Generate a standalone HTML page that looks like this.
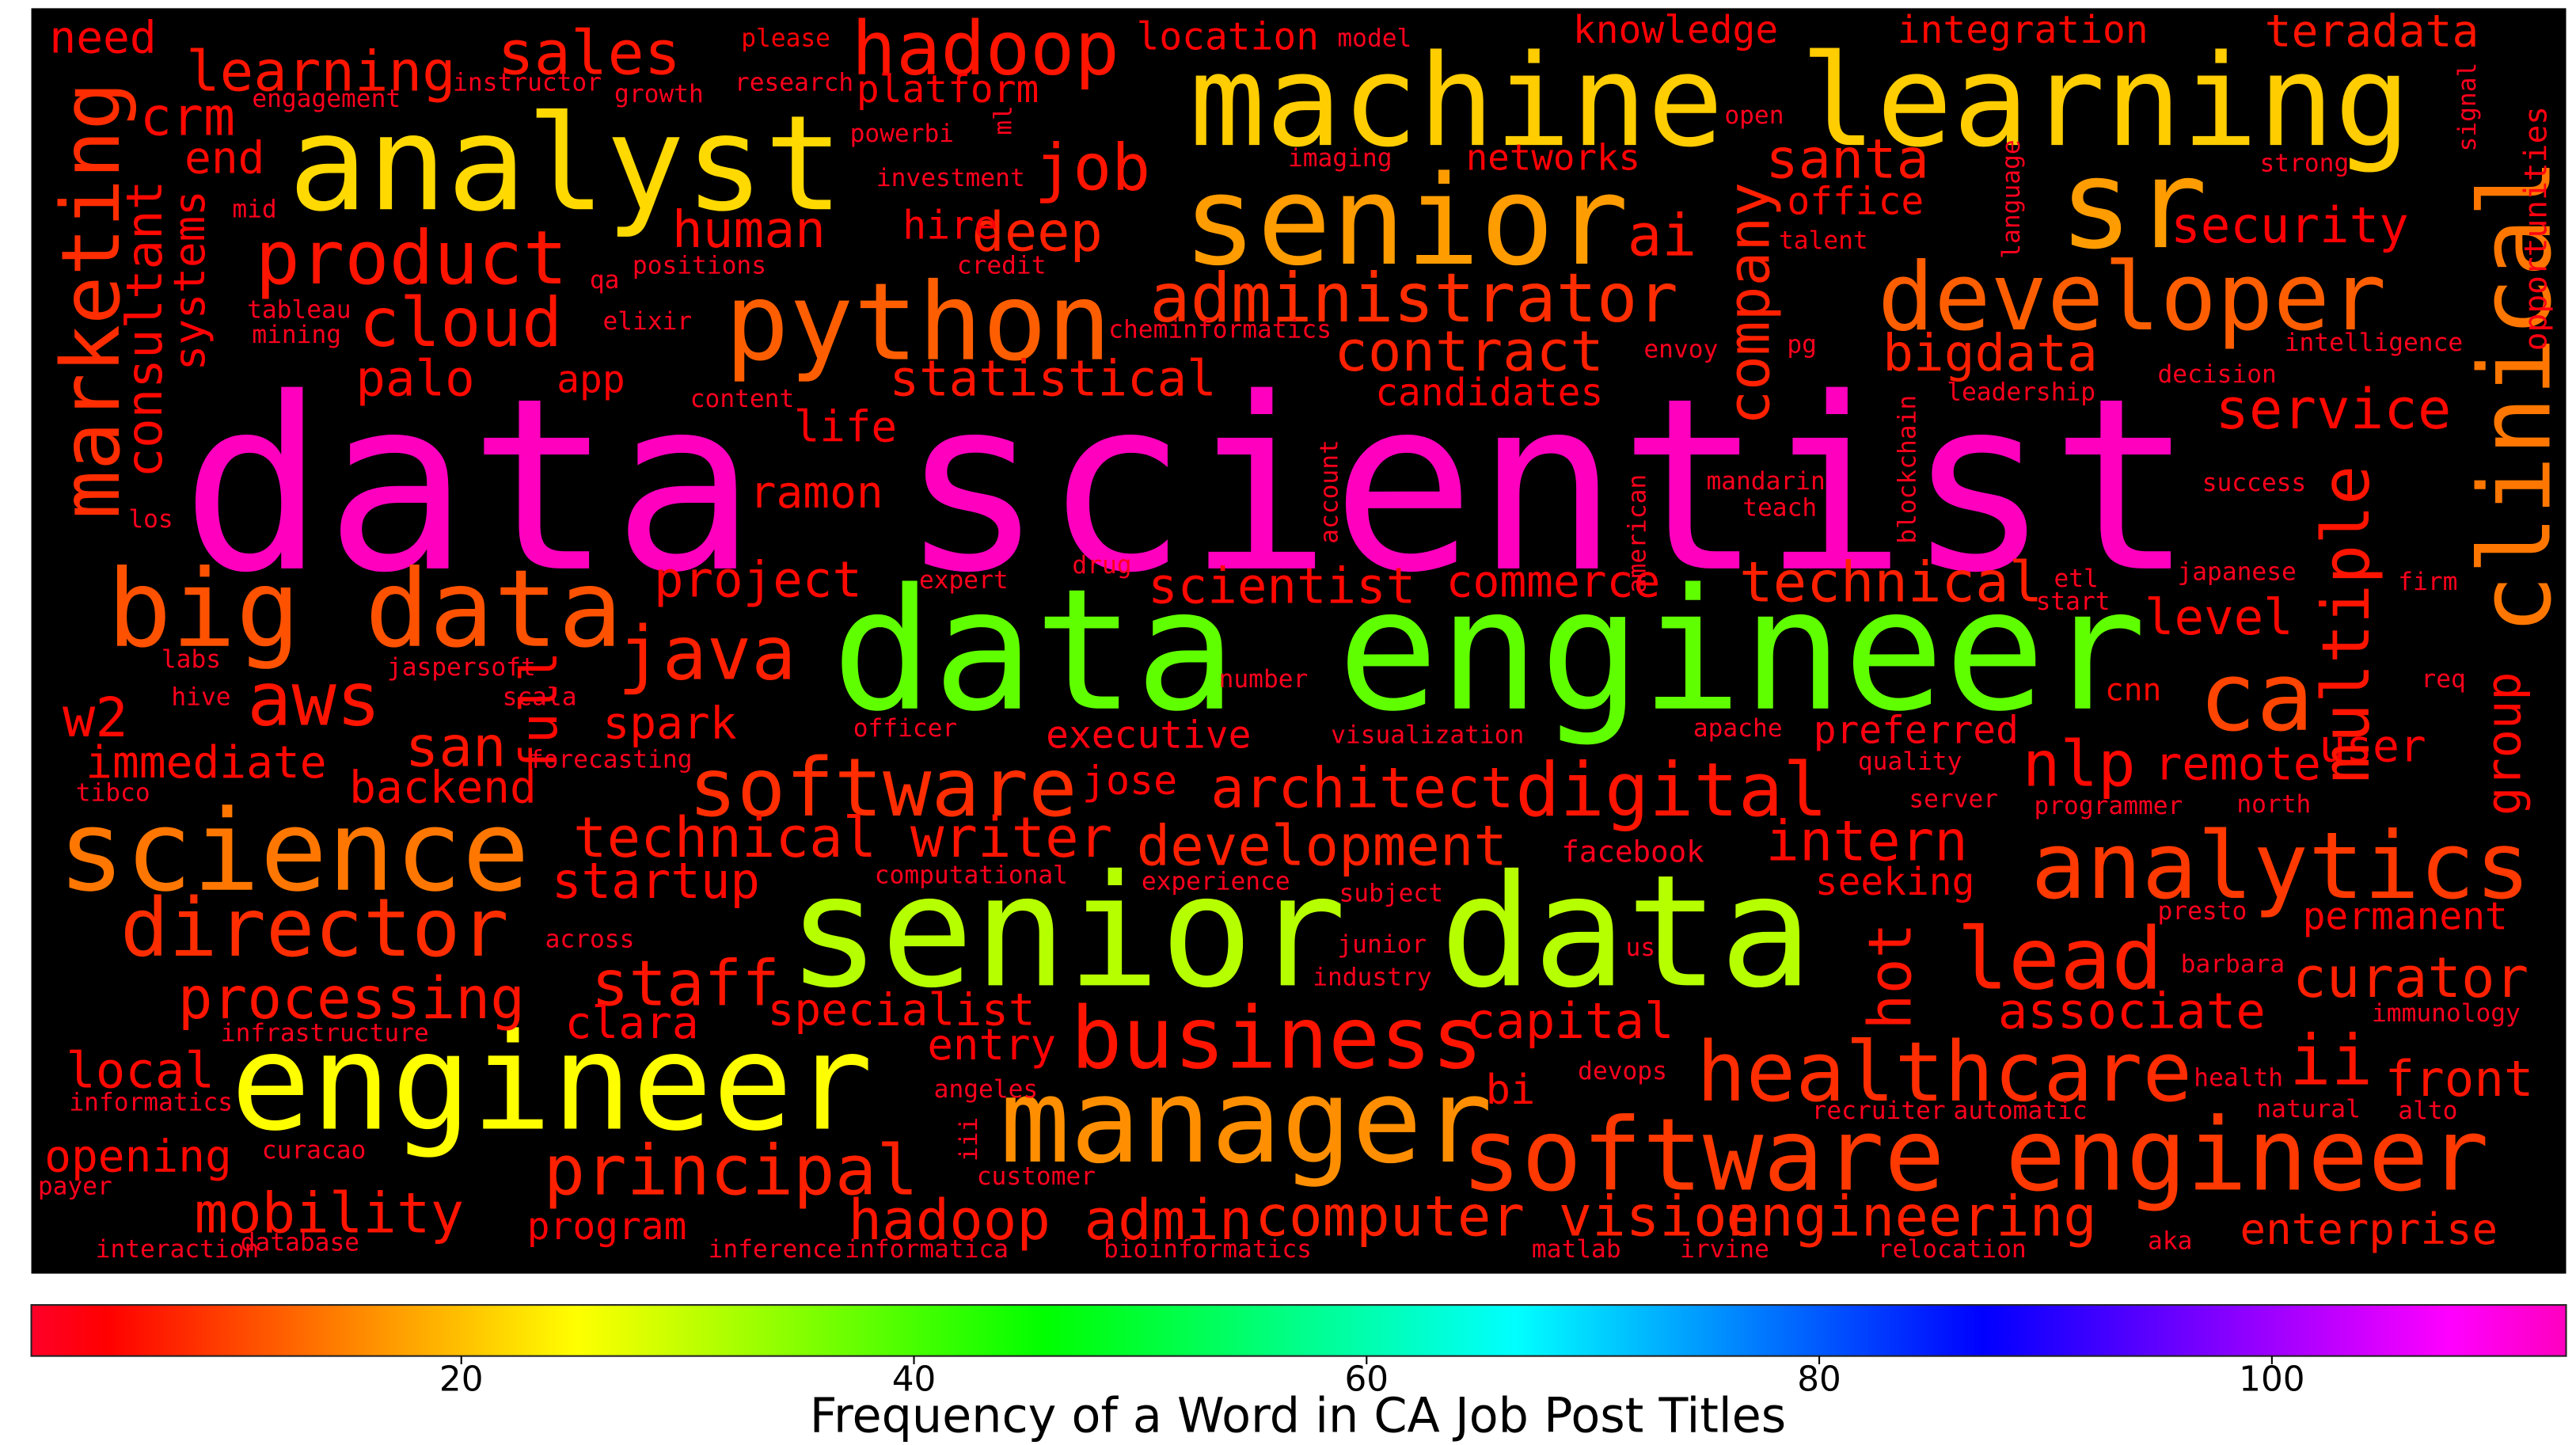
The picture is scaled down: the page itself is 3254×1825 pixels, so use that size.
<!DOCTYPE html>
<html><head><meta charset="utf-8"><style>
html,body{margin:0;padding:0;background:#fff;width:3254px;height:1825px;overflow:hidden}
svg{display:block}
</style></head><body>
<svg id="chart" xmlns="http://www.w3.org/2000/svg" width="3254" height="1825" viewBox="0 0 1564 877" preserveAspectRatio="none">
<defs><linearGradient id="cbgrad" x1="0" y1="0" x2="1" y2="0">
<stop offset="0" stop-color="#ff0029"/><stop offset="0.03" stop-color="#ff0000"/><stop offset="0.215" stop-color="#ffff00"/><stop offset="0.4" stop-color="#00ff00"/><stop offset="0.586" stop-color="#00ffff"/><stop offset="0.77" stop-color="#0000ff"/><stop offset="0.954" stop-color="#ff00ff"/><stop offset="1" stop-color="#ff00bf"/>
</linearGradient></defs>
<rect x="19" y="5" width="1539" height="768" fill="#000"/>
<g id="words" font-family="'DejaVu Sans Mono','Liberation Mono',monospace"></g>
<rect x="19" y="792" width="1539" height="31" fill="url(#cbgrad)" stroke="#222" stroke-width="1"/>
<g id="ticks" font-family="'DejaVu Sans','Liberation Sans',sans-serif"></g>
<text x="788" y="869" text-anchor="middle" font-size="29" font-family="'DejaVu Sans','Liberation Sans',sans-serif" fill="#000">Frequency of a Word in CA Job Post Titles</text>
</svg>
<script>
const words=["data scientist","data engineer","senior data","engineer","machine learning","analyst","senior","sr","python","developer","clinical","big data","science","director","ca","analytics","software engineer","manager","business","healthcare","lead","software","digital","marketing","product","cloud","administrator","hadoop","sales","job","deep","human","learning","crm","end","consultant","systems","need","ai","company","contract","candidates","statistical","palo","app","life","ramon","project","java","aws","w2","immediate","backend","san","full","spark","technical writer","startup","staff","clara","specialist","processing","local","opening","principal","mobility","program","hadoop admin","computer vision","engineering","enterprise","front","ii","curator","associate","hot","intern","seeking","nlp","remote","user","group","multiple","level","technical","commerce","scientist","architect","executive","development","capital","entry","jose","bi","service","bigdata","santa","office","security","teradata","integration","knowledge","location","platform","networks","hire","opportunities","cnn","preferred","permanent","please","research","model","open","signal","strong","talent","language","instructor","growth","engagement","ml","powerbi","investment","imaging","mid","qa","positions","credit","tableau","elixir","mining","cheminformatics","envoy","pg","intelligence","decision","leadership","content","blockchain","account","american","mandarin","teach","success","los","expert","drug","etl","start","japanese","firm","labs","jaspersoft","hive","scala","number","req","officer","visualization","apache","forecasting","quality","tibco","server","programmer","north","computational","experience","subject","presto","across","junior","us","barbara","industry","immunology","infrastructure","angeles","devops","health","informatics","curacao","iii","recruiter","automatic","natural","alto","payer","customer","database","interaction","inference","informatica","bioinformatics","matlab","irvine","relocation","aka","facebook"];
const freqs=[113,38,31,25,21,22,17,17,12,12,14,11,14,8,10,9,9,16,6,8,7,8,6,8,6,6,8,6,6,6,7,5,6,5,5,5,4,4,6,7,7,4,6,5,4,4,5,5,7,6,5,5,5,6,5,5,6,5,6,4,5,6,5,5,7,6,4,6,7,7,6,6,6,7,5,6,5,4,5,4,4,5,6,5,7,4,5,6,3,7,5,4,4,5,5,7,6,5,4,6,5,4,4,4,4,4,3,5,3,4,4,2,2,2,2,2,3,2,2,2,2,2,2,2,2,2,2,2,2,2,2,2,2,2,2,2,2,2,2,2,2,2,2,2,2,2,2,2,2,2,2,2,2,2,2,2,2,2,2,2,2,2,2,2,2,2,2,2,2,2,2,2,2,2,2,2,2,2,2,2,2,2,2,2,2,2,2,2,2,2,2,2,2,2,2,2,2,2,2,2,2,2,2,2,2,2,2];
// layout: [x, baseline y, font size, rotated]
const layout=[[110,345,145,0],[505,430,102,0],[478,598,94,0],[140,685,81,0],[722,88,77,0],[175,127,80,0],[718,160,75,0],[1250,150,75,0],[440,218,65,0],[1140,200,57,0],[1548,385,60,1],[65,392,65,0],[35,540,68,0],[73,580,49,0],[1335,443,58,0],[1233,545,56,0],[887,722,61,0],[607,705,71,0],[650,648,52,0],[1030,668,50,0],[1188,600,52,0],[418,495,49,0],[920,495,45,0],[72,315,49,1],[155,172,45,0],[218,210,41,0],[698,195,41,0],[517,45,45,0],[302,45,37,0],[628,115,39,0],[590,152,33,0],[408,150,31,0],[113,55,34,0],[85,82,32,0],[112,105,27,0],[98,290,30,1],[124,225,26,1],[30,32,27,0],[988,155,35,0],[1074,258,35,1],[810,225,34,0],[835,246,23,0],[540,240,30,0],[216,240,30,0],[338,238,23,0],[482,268,26,0],[455,308,27,0],[397,362,30,0],[375,412,45,0],[150,440,45,0],[38,447,33,0],[52,472,27,0],[212,487,27,0],[246,465,34,0],[338,470,31,1],[366,448,27,0],[348,520,34,0],[335,545,30,0],[359,610,38,0],[343,630,27,0],[466,622,27,0],[108,618,35,0],[40,660,30,0],[27,711,27,0],[330,725,42,0],[118,748,34,0],[320,752,23,0],[515,752,34,0],[762,750,34,0],[1048,750,34,0],[1360,755,26,0],[1448,665,30,0],[1390,658,42,0],[1392,605,34,0],[1213,624,30,0],[1160,625,36,1],[1072,522,34,0],[1102,543,23,0],[1228,477,38,0],[1308,473,28,0],[1408,462,27,0],[1530,495,29,1],[1438,475,40,1],[1302,385,30,0],[1056,365,34,0],[878,362,27,0],[697,366,30,0],[735,490,34,0],[635,454,23,0],[690,525,34,0],[890,630,30,0],[563,643,26,0],[657,482,24,0],[902,670,25,0],[1345,260,34,0],[1143,225,31,0],[1072,108,33,0],[1085,130,23,0],[1318,147,30,0],[1375,28,27,0],[1152,26,23,0],[955,26,23,0],[690,30,23,0],[520,62,23,0],[890,103,22,0],[548,145,24,0],[1546,213,19,1],[1278,425,19,0],[1101,451,23,0],[1398,564,23,0],
[450,28,15,0],[446,55,15,0],[812,28,15,0],[1047,75,15,0],[1503,92,15,1],[1372,104,15,0],[1080,151,15,0],[1226,157,15,1],[275,55,15,0],[373,62,15,0],[153,65,15,0],[614,82,15,1],[516,86,15,0],[532,113,15,0],[782,101,15,0],[141,132,15,0],[358,175,15,0],[384,166,15,0],[581,166,15,0],[150,193,15,0],[366,200,15,0],[153,208,15,0],[673,205,15,0],[998,217,15,0],[1085,214,15,0],[1387,213,15,0],[1310,232,15,0],[1182,243,15,0],[419,247,15,0],[1163,330,15,1],[812,330,15,1],[999,360,15,1],[1036,297,15,0],[1058,313,15,0],[1337,298,15,0],[78,320,15,0],[558,357,15,0],[651,348,15,0],[1247,356,15,0],[1236,370,15,0],[1322,352,15,0],[1456,358,15,0],[98,405,15,0],[235,410,15,0],[104,428,15,0],[305,428,15,0],[740,417,15,0],[1470,417,15,0],[518,447,15,0],[808,451,15,0],[1028,447,15,0],[321,466,15,0],[1128,467,15,0],[46,486,15,0],[1159,490,15,0],[1235,494,15,0],[1358,493,15,0],[531,536,15,0],[693,540,15,0],[813,547,15,0],[1310,558,15,0],[331,575,15,0],[812,578,15,0],[987,580,15,0],[1324,590,15,0],[797,598,15,0],[1440,620,15,0],[134,632,15,0],[567,666,15,0],[958,655,15,0],[1332,659,15,0],[42,674,15,0],[159,703,15,0],[593,705,15,1],[1100,679,15,0],[1186,679,15,0],[1370,678,15,0],[1456,679,15,0],[23,725,15,0],[593,719,15,0],[146,759,15,0],[58,763,15,0],[430,763,15,0],[513,763,15,0],[670,763,15,0],[930,763,15,0],[1020,763,15,0],[1140,763,15,0],[1304,758,15,0],[948,523,18,0]];
const tickValues=[20,40,60,80,100];
const vmin=1,vmax=113;
const stops=[[0,[1,0,0.16]],[0.03,[1,0,0]],[0.215,[1,1,0]],[0.4,[0,1,0]],[0.586,[0,1,1]],[0.77,[0,0,1]],[0.954,[1,0,1]],[1,[1,0,0.75]]];
function cmap(v){let t=(v-vmin)/(vmax-vmin);t=Math.max(0,Math.min(1,t));
for(let i=1;i<stops.length;i++){if(t<=stops[i][0]){const a=stops[i-1],b=stops[i];const u=(t-a[0])/(b[0]-a[0]);
const c=a[1].map((x,k)=>Math.round(255*(x+(b[1][k]-x)*u)));return `rgb(${c[0]},${c[1]},${c[2]})`;}}return 'rgb(255,0,191)';}
function xScale(v){return 19+(v-vmin)/(vmax-vmin)*1539;}
const NS='http://www.w3.org/2000/svg';
const g=document.getElementById('words');
words.forEach((w,i)=>{const L=layout[i];if(!L)return;
const t=document.createElementNS(NS,'text');


t.setAttribute('font-size',L[2]);t.setAttribute('fill',cmap(freqs[i]));
if(L[3]){t.setAttribute('transform',`translate(${L[0]},${L[1]}) rotate(-90)`);t.setAttribute('x',0);t.setAttribute('y',0);}
else{t.setAttribute('x',L[0]);t.setAttribute('y',L[1]);}
t.textContent=w;g.appendChild(t);});
const tg=document.getElementById('ticks');
tickValues.forEach(v=>{const x=xScale(v);
const l=document.createElementNS(NS,'line');


l.setAttribute('x1',x);l.setAttribute('x2',x);l.setAttribute('y1',823);l.setAttribute('y2',828);l.setAttribute('stroke','#000');tg.appendChild(l);
const t=document.createElementNS(NS,'text');


t.setAttribute('x',x);t.setAttribute('y',844);t.setAttribute('text-anchor','middle');t.setAttribute('font-size',21);t.textContent=v;tg.appendChild(t);});
</script>
</body></html>
